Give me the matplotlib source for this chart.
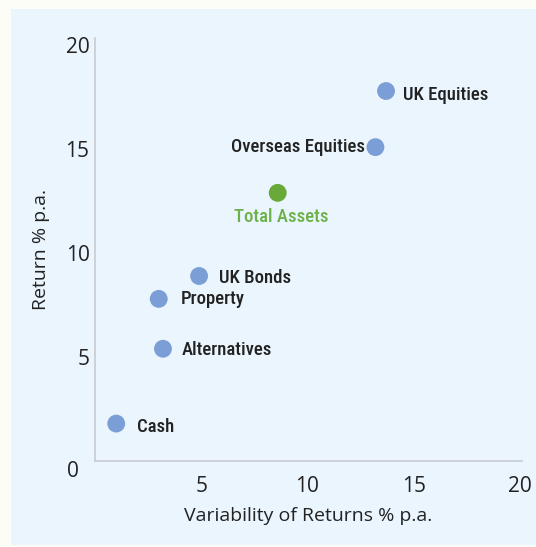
import matplotlib
matplotlib.use("Agg")
import matplotlib.pyplot as plt
from matplotlib.patches import Rectangle

# Asset classes: variability (x) vs return (y), % p.a.
assets = ["UK Equities", "Overseas Equities", "Total Assets", "UK Bonds",
          "Property", "Alternatives", "Cash"]
variability = [13.7, 13.2, 8.6, 4.9, 3.0, 3.2, 1.0]
returns = [17.8, 15.1, 12.9, 8.9, 7.8, 5.4, 1.8]
x_ticks = [5, 10, 15, 20]
y_ticks = [5, 10, 15, 20]

BLUE = "#7c9ed6"
GREEN = "#69a93a"
GREEN_TXT = "#6db14a"
DARK = "#222222"

# label placement per asset: (dx px, dy px, ha, va)
label_pos = {
    "UK Equities": (17, -4, "left", "center"),
    "Overseas Equities": (-10, 0, "right", "center"),
    "Total Assets": (4, -24, "center", "center"),
    "UK Bonds": (20, -2, "left", "center"),
    "Property": (22, 0, "left", "center"),
    "Alternatives": (19, -1, "left", "center"),
    "Cash": (21, -3, "left", "center"),
}

plt.rcParams["font.family"] = ["Open Sans", "DejaVu Sans"]
LABEL_FONT = ["Roboto Condensed", "Open Sans", "DejaVu Sans"]

W, H = 536, 547
fig = plt.figure(figsize=(W / 100, H / 100), dpi=100)
fig.patch.set_facecolor("#fdfdf8")
panel = Rectangle((11 / W, 2 / H), (W - 11) / W, (H - 11) / H,
                  transform=fig.transFigure, facecolor="#eaf5fd",
                  edgecolor="none", zorder=-5)
fig.patches.append(panel)

ax = fig.add_axes([95 / W, 86 / H, 427 / W, 423 / H])
ax.set_zorder(1)
ax.set_facecolor("none")
ax.set_xlim(0, 20.1)
ax.set_ylim(0, 20.35)
for s in ("top", "right"):
    ax.spines[s].set_visible(False)
for s in ("left", "bottom"):
    ax.spines[s].set_color("#c9ccd0")
    ax.spines[s].set_linewidth(1.2)

ax.set_xticks(x_ticks)
ax.set_yticks(y_ticks)
ax.tick_params(length=0, labelsize=15, labelcolor=DARK)
ax.tick_params(axis="x", pad=11)
ax.tick_params(axis="y", pad=4)
ax.text(-0.75, 0, "0", fontsize=15, color=DARK, ha="right", va="top",
        transform=ax.transData)

colors = [GREEN if a == "Total Assets" else BLUE for a in assets]
ax.scatter(variability, returns, s=165, c=colors, edgecolors="none", zorder=3,
           clip_on=False)

for a, x, y in zip(assets, variability, returns):
    dx, dy, ha, va = label_pos[a]
    ax.annotate(a, (x, y), xytext=(dx * 0.72, dy * 0.72), textcoords="offset points",
                ha=ha, va=va, fontsize=13.5, fontweight="medium", family=LABEL_FONT,
                color=GREEN_TXT if a == "Total Assets" else DARK)

ax.set_xlabel("Variability of Returns % p.a.", fontsize=14, color=DARK,
              fontweight="medium", labelpad=7)
ax.set_ylabel("Return % p.a.", fontsize=14, color=DARK,
              fontweight="medium", labelpad=11)

fig.savefig("out.png", dpi=100, facecolor=fig.get_facecolor())
